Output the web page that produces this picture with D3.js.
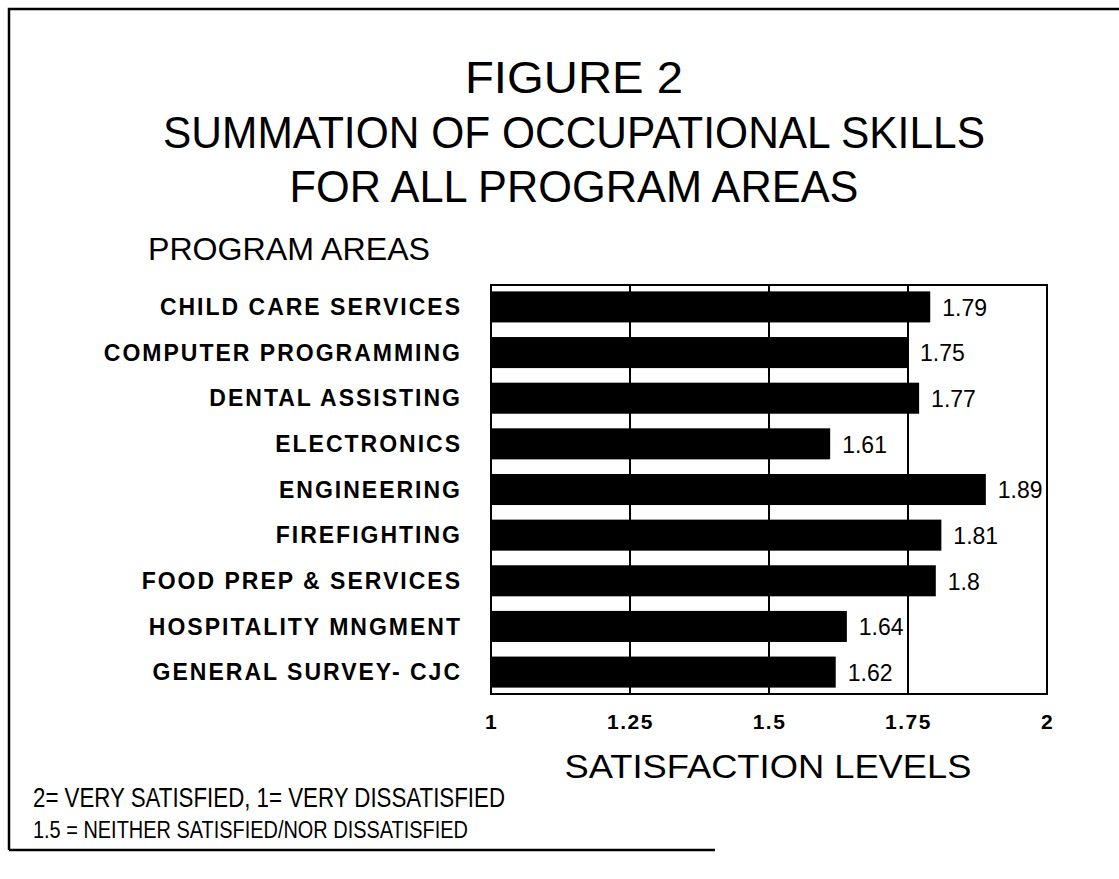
<!DOCTYPE html>
<html>
<head>
<meta charset="utf-8">
<script src="https://cdn.jsdelivr.net/npm/d3@7"></script>
<style>
  html, body { margin: 0; padding: 0; background: #fff; }
  svg { display: block; }
  text { font-family: "Liberation Sans", Arial, Helvetica, sans-serif; fill: #000; }
</style>
</head>
<body>
<svg id="chart" width="1119" height="879"></svg>
<script>
// ---- Data ----
const categories = [
  "CHILD CARE SERVICES",
  "COMPUTER PROGRAMMING",
  "DENTAL ASSISTING",
  "ELECTRONICS",
  "ENGINEERING",
  "FIREFIGHTING",
  "FOOD PREP & SERVICES",
  "HOSPITALITY MNGMENT",
  "GENERAL SURVEY- CJC"
];
const values = [1.79, 1.75, 1.77, 1.61, 1.89, 1.81, 1.8, 1.64, 1.62];
const valueLabels = ["1.79", "1.75", "1.77", "1.61", "1.89", "1.81", "1.8", "1.64", "1.62"];
const tickValues = [1, 1.25, 1.5, 1.75, 2];
const tickLabels = ["1", "1.25", "1.5", "1.75", "2"];
const gridValues = [1.25, 1.5, 1.75];
const titleLines = ["FIGURE 2", "SUMMATION OF OCCUPATIONAL SKILLS", "FOR ALL PROGRAM AREAS"];
const yAxisTitle = "PROGRAM AREAS";
const xAxisTitle = "SATISFACTION LEVELS";
const footnotes = ["2= VERY SATISFIED, 1= VERY DISSATISFIED", "1.5 = NEITHER SATISFIED/NOR DISSATISFIED"];

// ---- Layout ----
const svg = d3.select("#chart");
const plot = { left: 491, right: 1047, top: 285, bottom: 694 };

const x = d3.scaleLinear().domain([1, 2]).range([plot.left, plot.right]);
const y = d3.scaleBand().domain(categories).range([plot.top, plot.bottom])
  .paddingInner(0.32).paddingOuter(0.14);

// outer frame (scanned page border)
svg.append("path")
  .attr("d", "M9,850 L9,9 L1119,9")
  .attr("fill", "none").attr("stroke", "#000").attr("stroke-width", 2.5);
svg.append("path")
  .attr("d", "M9,850 L715,850")
  .attr("fill", "none").attr("stroke", "#000").attr("stroke-width", 2.5);

// titles
const titleBaselines = [93, 148, 202];
const titleWidths = [218, 822, 569];
svg.selectAll("text.title").data(titleLines).join("text")
  .attr("class", "title")
  .attr("x", 574)
  .attr("y", (d, i) => titleBaselines[i])
  .attr("text-anchor", "middle")
  .attr("font-size", 44)
  .attr("textLength", (d, i) => titleWidths[i])
  .attr("lengthAdjust", "spacingAndGlyphs")
  .text(d => d);

svg.append("text")
  .attr("x", 148).attr("y", 260)
  .attr("font-size", 31)
  .attr("textLength", 282).attr("lengthAdjust", "spacingAndGlyphs")
  .text(yAxisTitle);

// bars
svg.append("g").selectAll("rect").data(values).join("rect")
  .attr("x", x(1))
  .attr("y", (d, i) => y(categories[i]))
  .attr("width", d => x(d) - x(1))
  .attr("height", y.bandwidth())
  .attr("fill", "#000");

// gridlines
svg.append("g").selectAll("line").data(gridValues).join("line")
  .attr("x1", d => x(d)).attr("x2", d => x(d))
  .attr("y1", plot.top).attr("y2", plot.bottom)
  .attr("stroke", "#000").attr("stroke-width", 2);

// plot frame
svg.append("rect")
  .attr("x", plot.left).attr("y", plot.top)
  .attr("width", plot.right - plot.left).attr("height", plot.bottom - plot.top)
  .attr("fill", "none").attr("stroke", "#000").attr("stroke-width", 2);

// category labels
svg.append("g").selectAll("text").data(categories).join("text")
  .attr("x", 462)
  .attr("y", d => y(d) + y.bandwidth() / 2)
  .attr("dy", "0.36em")
  .attr("text-anchor", "end")
  .attr("font-size", 23)
  .attr("font-weight", "bold")
  .attr("letter-spacing", 2)
  .text(d => d);

// value labels
svg.append("g").selectAll("text").data(values).join("text")
  .attr("x", d => x(d) + 12)
  .attr("y", (d, i) => y(categories[i]) + y.bandwidth() / 2)
  .attr("dy", "0.38em")
  .attr("font-size", 23)
  .text((d, i) => valueLabels[i]);

// x axis tick labels
const axis = d3.axisBottom(x)
  .tickValues(tickValues)
  .tickSize(0)
  .tickPadding(0)
  .tickFormat((d, i) => tickLabels[i]);
const ax = svg.append("g").attr("transform", `translate(0, 714)`).call(axis);
ax.select(".domain").remove();
ax.selectAll("text")
  .attr("font-size", 21)
  .attr("font-weight", "bold")
  .attr("letter-spacing", 1.5)
  .attr("font-family", "Liberation Sans, Arial, sans-serif")
  .attr("fill", "#000");

// x axis title
svg.append("text")
  .attr("x", 768).attr("y", 778)
  .attr("text-anchor", "middle")
  .attr("font-size", 33)
  .attr("textLength", 407).attr("lengthAdjust", "spacingAndGlyphs")
  .text(xAxisTitle);

// footnotes
const footBaselines = [807, 838];
const footSizes = [27, 23];
const footWidths = [472, 435];
svg.selectAll("text.foot").data(footnotes).join("text")
  .attr("class", "foot")
  .attr("x", 33)
  .attr("y", (d, i) => footBaselines[i])
  .attr("font-size", (d, i) => footSizes[i])
  .attr("textLength", (d, i) => footWidths[i])
  .attr("lengthAdjust", "spacingAndGlyphs")
  .text(d => d);
</script>
</body>
</html>
